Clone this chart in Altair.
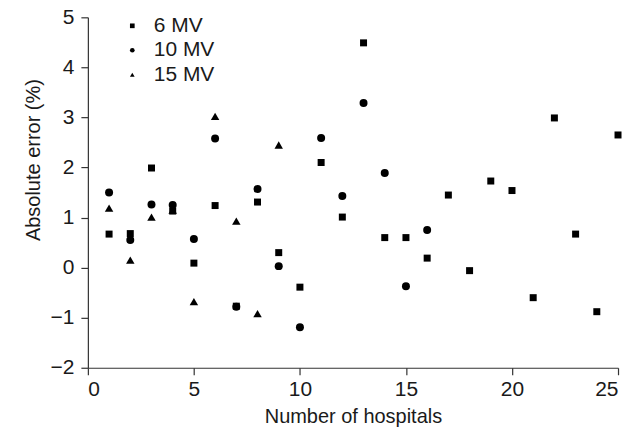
import altair as alt
import pandas as pd

energies = ["6 MV", "10 MV", "15 MV"]
shapes = ["square", "circle", "triangle-up"]
mark_sizes = [49, 64, 72]

hosp_6mv = [1, 2, 3, 4, 5, 6, 7, 8, 9, 10, 11, 12, 13, 14, 15, 16, 17, 18, 19, 20, 21, 22, 23, 24, 25]
err_6mv = [0.67, 0.68, 1.99, 1.13, 0.09, 1.24, -0.77, 1.31, 0.30, -0.39, 2.10, 1.01, 4.49,
           0.60, 0.60, 0.19, 1.45, -0.06, 1.73, 1.54, -0.60, 2.99, 0.67, -0.88, 2.65]

hosp_10mv = [1, 2, 3, 4, 5, 6, 7, 8, 9, 10, 11, 12, 13, 14, 15, 16]
err_10mv = [1.50, 0.55, 1.26, 1.25, 0.57, 2.58, -0.78, 1.57, 0.03, -1.19, 2.59, 1.43, 3.29,
            1.89, -0.37, 0.75]

hosp_15mv = [1, 2, 3, 4, 5, 6, 7, 8, 9]
err_15mv = [1.19, 0.15, 1.01, 1.15, -0.68, 3.02, 0.93, -0.92, 2.45]

x_ticks = [0, 5, 10, 15, 20, 25]
y_ticks = [-2, -1, 0, 1, 2, 3, 4, 5]

rows = []
for h, e in zip(hosp_6mv, err_6mv):
    rows.append({"hospital": h, "error": e, "energy": "6 MV"})
for h, e in zip(hosp_10mv, err_10mv):
    rows.append({"hospital": h, "error": e, "energy": "10 MV"})
for h, e in zip(hosp_15mv, err_15mv):
    rows.append({"hospital": h, "error": e, "energy": "15 MV"})
df = pd.DataFrame(rows)

FONT = "Liberation Sans"
INK = "#1a1a1a"

base = alt.Chart(df).encode(
    x=alt.X(
        "hospital:Q",
        scale=alt.Scale(domain=[0, 25], nice=False, zero=False),
        axis=alt.Axis(
            values=x_ticks, title="Number of hospitals", grid=False,
            tickSize=7, labelPadding=4, labelFontSize=21, titleFontSize=20,
            titleFontWeight="normal", titleY=39, titleBaseline="top",
        ),
    ),
    y=alt.Y(
        "error:Q",
        scale=alt.Scale(domain=[-2, 5], nice=False, zero=False),
        axis=alt.Axis(
            values=y_ticks, title="Absolute error (%)", grid=False,
            tickSize=7, labelPadding=7, labelFontSize=21, titleFontSize=20,
            titleFontWeight="normal", titleX=-54, titleY=142.5,
            titleBaseline="middle", titleAlign="center", titleAngle=-90,
        ),
    ),
    shape=alt.Shape(
        "energy:N",
        scale=alt.Scale(domain=energies, range=shapes),
        legend=alt.Legend(
            title=None, orient="none", legendX=34, legendY=-2,
            labelFontSize=21, symbolSize=22, symbolFillColor="black",
            symbolStrokeColor="black", symbolStrokeWidth=0,
            rowPadding=2.5, labelOffset=11, padding=0,
            labelFont=FONT, labelColor=INK,
        ),
    ),
)

layers = [
    base.transform_filter(alt.datum.energy == e).mark_point(
        filled=True, opacity=1, color="black", size=s
    )
    for e, s in zip(energies, mark_sizes)
]

chart = alt.layer(*layers).properties(
    width=531,
    height=351,
    autosize=alt.AutoSizeParams(type="none"),
    padding={"left": 80, "top": 9, "right": 8, "bottom": 59},
).configure_view(stroke=None).configure_axis(
    labelFont=FONT, titleFont=FONT, labelColor=INK, titleColor=INK,
    domainColor="#333333", tickColor="#333333", domainWidth=1.2, tickWidth=1.2,
)

chart.save("out.html", embed_options={"renderer": "svg", "actions": False})
